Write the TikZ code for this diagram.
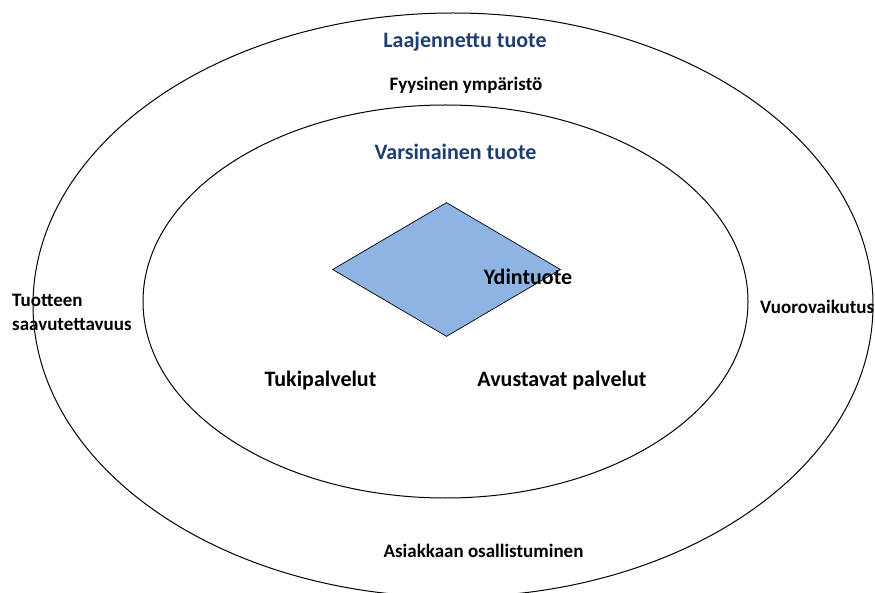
\documentclass[tikz,border=0pt]{standalone}
\usepackage{fontspec}
\setmainfont{Carlito}
\usetikzlibrary{shapes.geometric}
\definecolor{titleblue}{RGB}{31,62,110}
\definecolor{corefill}{RGB}{142,180,227}
\tikzset{
  ring/.style={draw=black, line width=1pt},
  heading/.style={font=\bfseries\fontsize{22}{26}\selectfont, text=titleblue, inner sep=0pt},
  biglabel/.style={font=\bfseries\fontsize{22}{26}\selectfont, inner sep=0pt},
  smalllabel/.style={font=\bfseries\fontsize{19}{24}\selectfont, inner sep=0pt},
}
\begin{document}
\begin{tikzpicture}[x=1pt, y=-1pt]
  \useasboundingbox (0,0) rectangle (875,593);
  \clip (0,0) rectangle (875,593);
  % rings
  \draw[ring] (453,305) ellipse [x radius=420pt, y radius=292pt];
  \draw[ring] (445.5,301.5) ellipse [x radius=302.5pt, y radius=196.5pt];
  % core diamond
  \node[diamond, draw=black, line width=0.7pt, fill=corefill, inner sep=0pt,
        minimum width=228pt, minimum height=134pt, aspect=1.7] (core) at (446.5,269.5) {};
  % labels
  \node[heading] (ext) at (465,42) {Laajennettu tuote};
  \node[smalllabel] (env) at (466,85) {Fyysinen ympäristö};
  \node[heading] (act) at (455.5,152) {Varsinainen tuote};
  \node[biglabel] (ydin) at (528,277) {Ydintuote};
  \node[smalllabel, anchor=west, align=left] (access) at (12,312) {Tuotteen\\saavutettavuus};
  \node[smalllabel, anchor=west] (inter) at (760,307) {Vuorovaikutus};
  \node[biglabel] (tuki) at (320.5,381) {Tukipalvelut};
  \node[biglabel] (avust) at (562,381) {Avustavat palvelut};
  \node[smalllabel] (cust) at (483.5,551) {Asiakkaan osallistuminen};
\end{tikzpicture}
\end{document}
